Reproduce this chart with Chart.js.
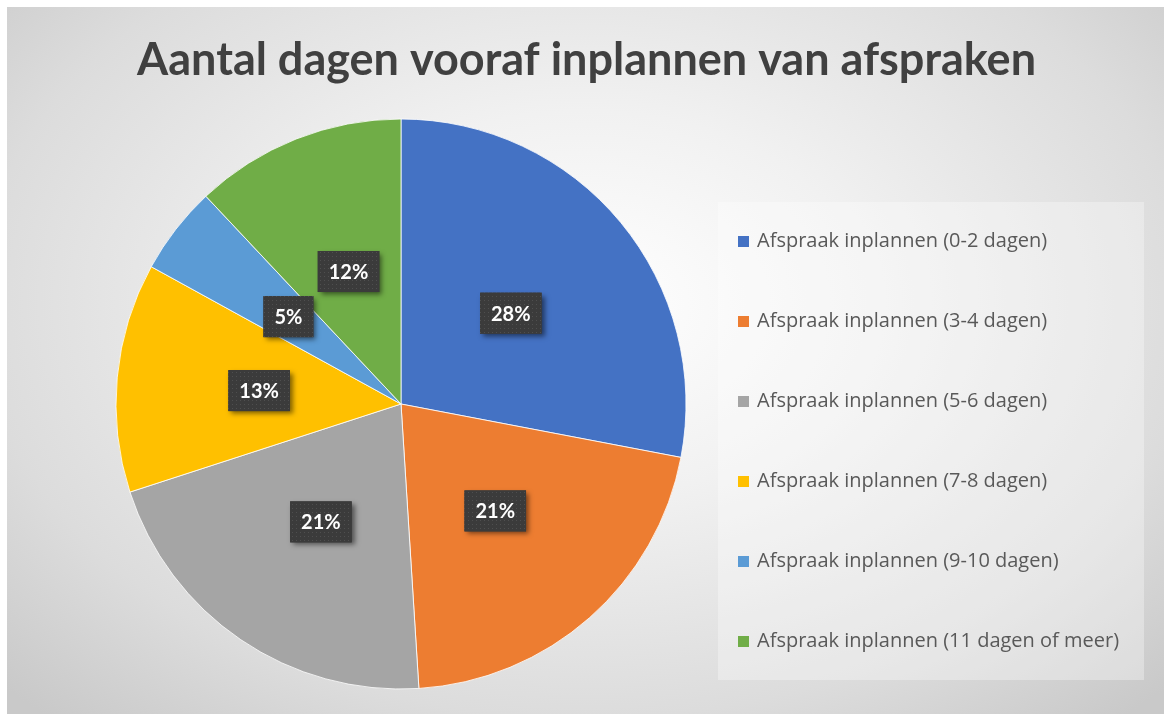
<!DOCTYPE html>
<html lang="nl">
<head>
<meta charset="utf-8">
<title>Aantal dagen vooraf inplannen van afspraken</title>
<script src="https://cdn.jsdelivr.net/npm/chart.js@4.4.1/dist/chart.umd.min.js"></script>
<style>
  html, body { margin: 0; padding: 0; background: #fff; }
  #wrap {
    position: absolute;
    left: 7px;
    top: 7px;
    width: 1157px;
    height: 707px;
    background: radial-gradient(ellipse 70% 78% at 50% 42%, #ffffff 0%, #f1f1f1 35%, #dcdcdc 75%, #c9c9c9 100%);
  }
  canvas { display: block; }
</style>
</head>
<body>
<div id="wrap"><canvas id="pieChart"></canvas></div>
<script>
// Gegevens
const titel = 'Aantal dagen vooraf inplannen van afspraken';
const categorieen = [
  'Afspraak inplannen (0-2 dagen)',
  'Afspraak inplannen (3-4 dagen)',
  'Afspraak inplannen (5-6 dagen)',
  'Afspraak inplannen (7-8 dagen)',
  'Afspraak inplannen (9-10 dagen)',
  'Afspraak inplannen (11 dagen of meer)'
];
const percentages = [28, 21, 21, 13, 5, 12];
const kleuren = ['#4472C4', '#ED7D31', '#A5A5A5', '#FFC000', '#5B9BD5', '#70AD47'];

// Legenda-instellingen
const legendaFont = { family: 'Open Sans', size: 20 };
const legendaPadding = 60;
const icoonBreedte = 22;

// Legendablokjes: vierkantje rechts in een iets breder plaatje
const iconen = kleuren.map(kleur => {
  const c = document.createElement('canvas');
  c.width = 26;
  c.height = 11;
  const g = c.getContext('2d');
  g.fillStyle = kleur;
  g.fillRect(15, 0, 11, 11);
  return c;
});

// Breedte van de legenda meten zodat de rechtermarge klopt
const meet = document.createElement('canvas').getContext('2d');
meet.font = legendaFont.size + 'px "' + legendaFont.family + '"';
const langsteTekst = Math.max(...categorieen.map(t => meet.measureText(t).width));
const legendaBreedte = legendaPadding + icoonBreedte + legendaFont.size / 2 + langsteTekst + 10;
const linksMarge = 130;
const taartRechts = 658;
const rechtsMarge = Math.max(0, 1157 - taartRechts - legendaBreedte);

// Gestippeld patroon voor de labelvakjes
const tegel = document.createElement('canvas');
tegel.width = 4;
tegel.height = 4;
const tctx = tegel.getContext('2d');
tctx.fillStyle = '#3b3b3b';
tctx.fillRect(0, 0, 4, 4);
tctx.fillStyle = '#4f4f4f';
tctx.fillRect(1, 1, 1, 1);

// Lichte achtergrond achter de legenda
const legendaVlak = {
  id: 'legendaVlak',
  beforeDraw(chart) {
    const boxes = chart.legend && chart.legend.legendHitBoxes;
    if (!boxes || !boxes.length) return;
    const eerste = boxes[0];
    const laatste = boxes[boxes.length - 1];
    const links = eerste.left - 7;
    const rechts = Math.max(...boxes.map(b => b.left + b.width)) + 25;
    const boven = eerste.top - 29;
    const onder = laatste.top + laatste.height + 29;
    const ctx = chart.ctx;
    ctx.save();
    ctx.fillStyle = 'rgba(255, 255, 255, 0.32)';
    ctx.fillRect(links, boven, rechts - links, onder - boven);
    ctx.restore();
  }
};

// Percentages in donkere vakjes midden in elke taartpunt
const dataLabels = {
  id: 'dataLabels',
  afterDatasetsDraw(chart) {
    const ctx = chart.ctx;
    const meta = chart.getDatasetMeta(0);
    const waarden = chart.data.datasets[0].data;
    const totaal = waarden.reduce((a, b) => a + b, 0);
    ctx.save();
    ctx.font = 'bold 20px Lato';
    ctx.textAlign = 'center';
    ctx.textBaseline = 'middle';
    meta.data.forEach((arc, i) => {
      const { x, y } = arc.tooltipPosition();
      const tekst = Math.round(waarden[i] / totaal * 100) + '%';
      const w = ctx.measureText(tekst).width + 22;
      const h = 41;
      ctx.shadowColor = 'rgba(0, 0, 0, 0.5)';
      ctx.shadowBlur = 5;
      ctx.shadowOffsetX = 3;
      ctx.shadowOffsetY = 3;
      ctx.fillStyle = '#3b3b3b';
      ctx.fillRect(x - w / 2, y - h / 2, w, h);
      ctx.shadowColor = 'transparent';
      ctx.fillStyle = ctx.createPattern(tegel, 'repeat');
      ctx.fillRect(x - w / 2, y - h / 2, w, h);
      ctx.fillStyle = '#ffffff';
      ctx.fillText(tekst, x, y + 1);
    });
    ctx.restore();
  }
};

const ctx = document.getElementById('pieChart').getContext('2d');
const pieChart = new Chart(ctx, {
  type: 'pie',
  data: {
    labels: categorieen,
    datasets: [{
      data: percentages,
      backgroundColor: kleuren,
      borderColor: 'rgba(255, 255, 255, 0.8)',
      borderWidth: 1,
      radius: 285,
      clip: false
    }]
  },
  options: {
    responsive: true,
    maintainAspectRatio: false,
    animation: false,
    layout: {
      padding: { top: 19, left: linksMarge, right: rechtsMarge, bottom: 3 }
    },
    plugins: {
      title: {
        display: true,
        text: titel,
        align: 'start',
        color: '#404040',
        font: { family: 'Lato', size: 45, weight: 'bold', lineHeight: 1.2 },
        padding: { top: 7, bottom: 10 }
      },
      legend: {
        position: 'right',
        align: 'end',
        labels: {
          color: '#595959',
          font: legendaFont,
          usePointStyle: true,
          pointStyleWidth: icoonBreedte,
          boxHeight: 11,
          padding: legendaPadding,
          generateLabels(chart) {
            return Chart.overrides.pie.plugins.legend.labels.generateLabels(chart)
              .map((item, i) => Object.assign(item, { lineWidth: 0, pointStyle: iconen[i] }));
          }
        }
      },
      tooltip: { enabled: false }
    }
  },
  plugins: [legendaVlak, dataLabels]
});
</script>
</body>
</html>
